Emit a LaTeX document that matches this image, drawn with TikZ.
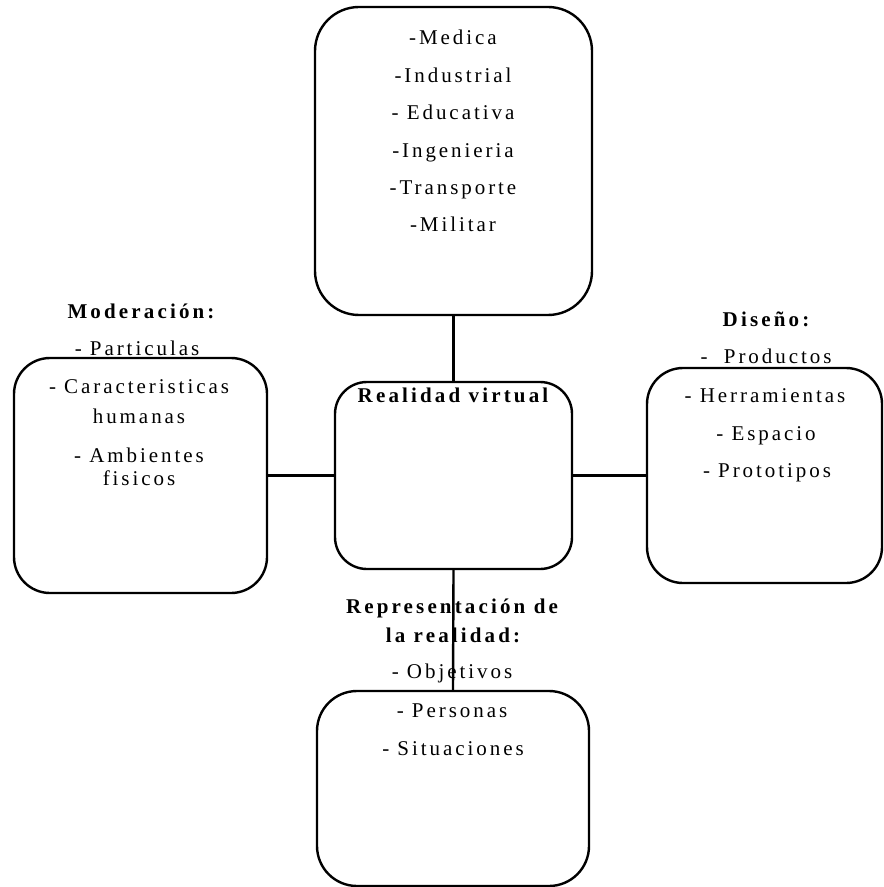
\documentclass[tikz,border=0pt]{standalone}
\usepackage{fontspec}
\setmainfont{Liberation Serif}[LetterSpace=14, BoldFeatures={LetterSpace=15}]
\begin{document}
\begin{tikzpicture}[x=0.5pt,y=-0.5pt,
    caja/.style={draw, line width=1.2pt, inner sep=0pt},
    item/.style={anchor=base, inner sep=0pt, font=\fontsize{10.5}{12}\selectfont},
    titulo/.style={item, font=\fontsize{10.5}{12}\selectfont\bfseries}]
		%%%%% START %%%%%
		\useasboundingbox (0, 0) rectangle (883, 887);
		
		% cajas
		\node[caja, rounded corners=22pt, minimum width=138.5pt, minimum height=154pt] (aplic) at (453.5, 161) {};
		\node[caja, rounded corners=16pt, minimum width=118.5pt, minimum height=93.5pt] (rv) at (453.5, 475.5) {};
		\node[caja, rounded corners=18pt, minimum width=126.5pt, minimum height=117.5pt] (moder) at (140.5, 475.5) {};
		\node[caja, rounded corners=18pt, minimum width=117.5pt, minimum height=107.5pt] (disen) at (764.5, 475.5) {};
		\node[caja, rounded corners=20pt, minimum width=136pt, minimum height=97.5pt] (repre) at (453, 788.5) {};
		
		% conectores
		\draw[line width=1.2pt] (aplic.south) -- (rv.north);
		\draw[line width=1.2pt] (moder.east) -- (rv.west);
		\draw[line width=1.2pt] (rv.east) -- (disen.west);
		\draw[line width=1.2pt] (rv.south) -- (repre.north);
		
		% areas
		\foreach \t [count=\i] in {-Medica, -Industrial, - Educativa, -Ingenieria, -Transporte, -Militar}
			\node[item] (area\i) at (453, {7.6+37.4*\i}) {\t};
		
		\node[titulo] (rvtxt) at (453, 402) {Realidad virtual};
		
		% moderacion
		\node[titulo] (modtit) at (141, 318) {Moderación:};
		\node[item] (mod1) at (137, 355) {- Particulas};
		\node[item] (mod2) at (139, 393) {- Caracteristicas};
		\node[item] (mod3) at (139, 423) {humanas};
		\node[item] (mod4) at (139, 462) {- Ambientes};
		\node[item] (mod5) at (139, 485) {fisicos};
		
		% diseno
		\node[titulo] (distit) at (766, 327) {Diseño:};
		\node[item] (dis1) at (766, 363) {-~ Productos};
		\node[item] (dis2) at (765, 402) {- Herramientas};
		\node[item] (dis3) at (766, 440) {- Espacio};
		\node[item] (dis4) at (767, 477) {- Prototipos};
		
		% representacion
		\node[titulo] (reptit1) at (452, 613) {Representación de};
		\node[titulo] (reptit2) at (453, 642) {la realidad:};
		\node[item] (rep1) at (452, 678) {- Objetivos};
		\node[item] (rep2) at (452, 717) {- Personas};
		\node[item] (rep3) at (453, 755) {- Situaciones};
		
		%%%%% END %%%%%
\end{tikzpicture}
\end{document}
